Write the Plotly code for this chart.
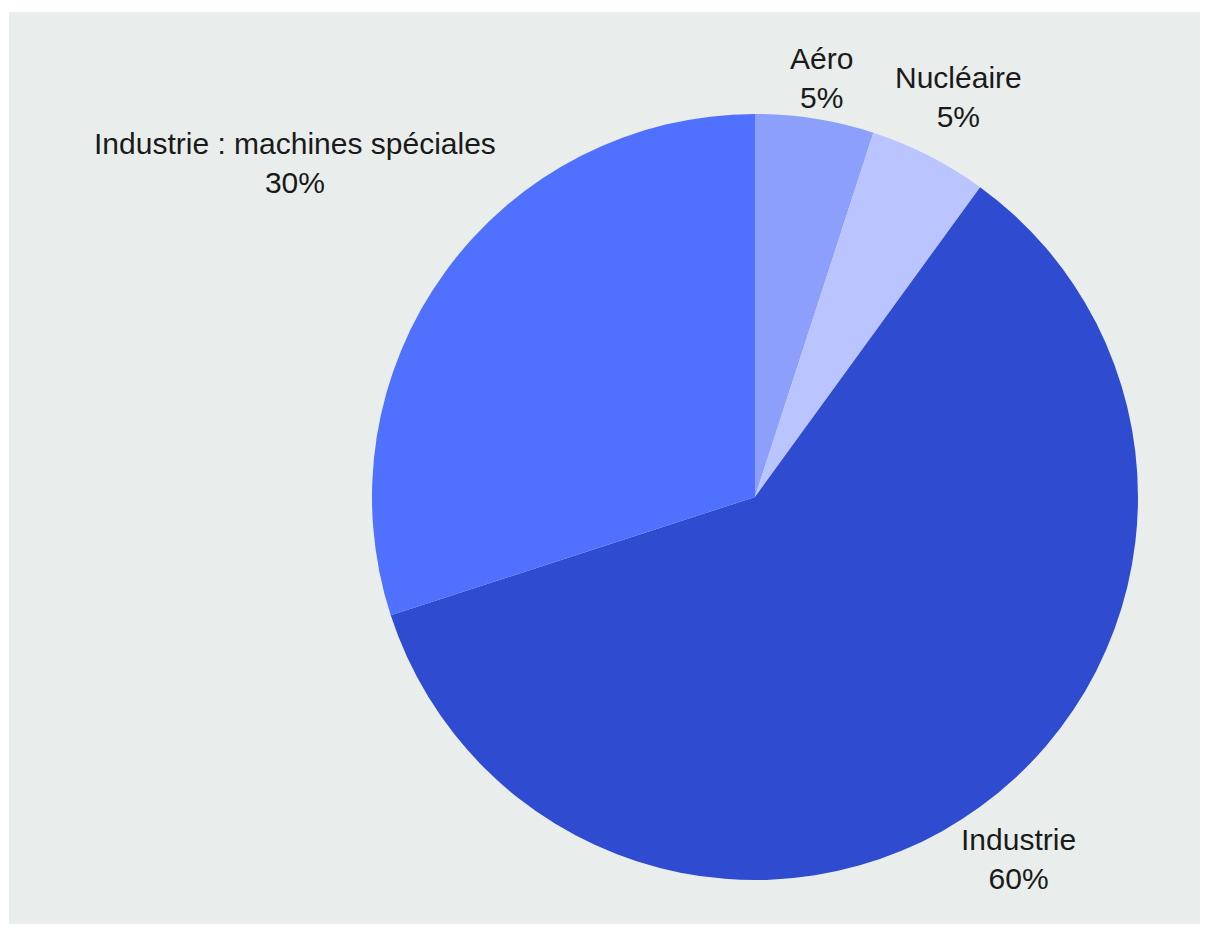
import math
import plotly.graph_objects as go

labels = ["Aéro", "Nucléaire", "Industrie", "Industrie : machines spéciales"]
values = [5, 5, 60, 30]
colors = ["#8ca0fb", "#bac4fe", "#2f4bcf", "#5070fe"]
# radial distance (px) of each label centre from the pie centre (layout only)
label_dist = [424, 449, 448, 569]

# page body has an 8px margin, so figure coordinates are offset by 8px
W, H = 1193, 916
cx, cy, r = 747, 489, 383

fig = go.Figure(go.Pie(
    labels=labels,
    values=values,
    sort=False,
    direction="clockwise",
    rotation=0,
    marker=dict(colors=colors, line=dict(width=0)),
    textinfo="none",
    showlegend=False,
    hoverinfo="label+percent",
    domain=dict(x=[(cx - r) / W, (cx + r) / W], y=[(H - cy - r) / H, (H - cy + r) / H]),
))

total = sum(values)
annotations = []
cum = 0
for lab, v, d in zip(labels, values, label_dist):
    mid = (cum + v / 2) / total * 2 * math.pi
    cum += v
    px = cx + d * math.sin(mid)
    py = cy - d * math.cos(mid)
    pct = round(100 * v / total)
    annotations.append(dict(
        x=px / W, y=1 - py / H, xref="paper", yref="paper",
        text=f"{lab}<br>{pct}%", showarrow=False,
        xanchor="center", yanchor="middle", align="center",
        font=dict(family="Liberation Sans, Arial, sans-serif", size=30, color="#1a1a1a"),
    ))

fig.update_layout(
    width=W, height=H,
    margin=dict(l=0, r=0, t=0, b=0),
    paper_bgcolor="white",
    plot_bgcolor="white",
    annotations=annotations,
    shapes=[dict(type="rect", xref="paper", yref="paper", x0=1 / W, x1=1192 / W, y0=0, y1=1 - 4 / H,
                 fillcolor="#e9eeec", line=dict(width=0), layer="below")],
)

fig.write_html("out.html")
